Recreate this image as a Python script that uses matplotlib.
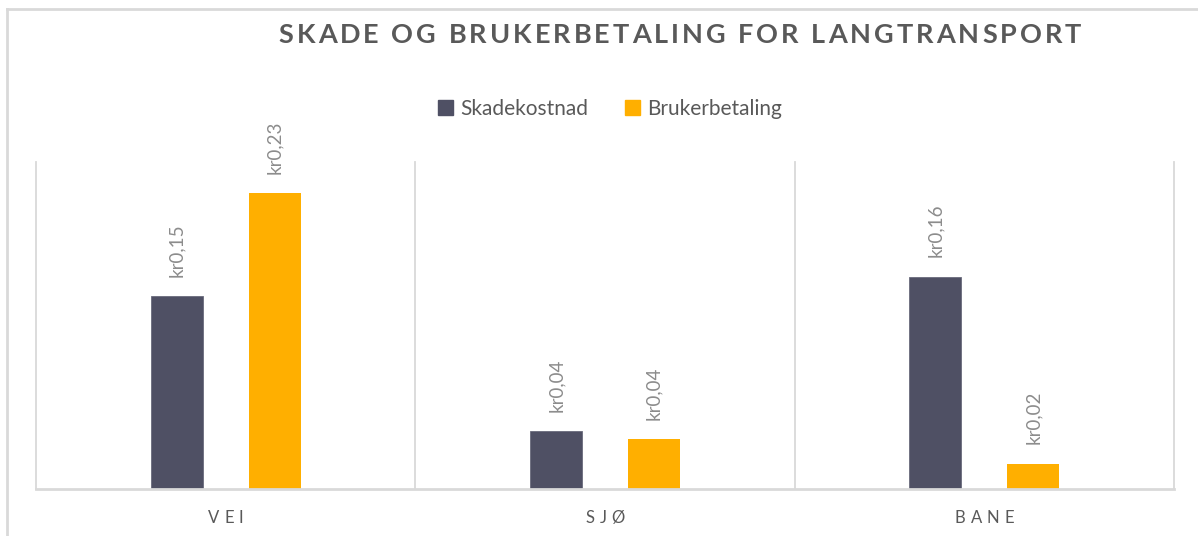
import numpy as np
import matplotlib
matplotlib.use("Agg")
import matplotlib.pyplot as plt
from matplotlib.lines import Line2D
from matplotlib.patches import Patch

# data (kr per tonn-km, roughly)
categories = ["VEI", "SJØ", "BANE"]
skadekostnad = [0.149, 0.0448, 0.1643]
brukerbetaling = [0.229, 0.0385, 0.0194]
series_names = ["Skadekostnad", "Brukerbetaling"]

title = "SKADE OG BRUKERBETALING FOR LANGTRANSPORT"

dark = "#4F5064"
orange = "#FFAF00"
grid_col = "#D9D9D9"
text_col = "#595959"
label_col = "#8C8C8C"
font = "Lato"

W, H = 1198, 536
fig = plt.figure(figsize=(W / 100, H / 100), dpi=100)
ax = fig.add_axes([36 / W, 1 - 489 / H, (1174 - 36) / W, (489 - 162) / H])

x = np.arange(len(categories))
bw = 0.137
off = 0.129
b1 = ax.bar(x - off, skadekostnad, bw, color=dark, edgecolor="#6A6B7C", linewidth=0.6)
b2 = ax.bar(x + off, brukerbetaling, bw, color=orange)

# value labels, rotated like the Excel chart
for bars, vals in [(b1, skadekostnad), (b2, brukerbetaling)]:
    for rect, v in zip(bars, vals):
        txt = "kr" + f"{v:.2f}".replace(".", ",")
        ax.annotate(txt, (rect.get_x() + rect.get_width() / 2, rect.get_height()),
                    xytext=(0, 14), textcoords="offset points", rotation=90,
                    ha="center", va="bottom", fontsize=13.5, color=label_col,
                    family=font)

ax.set_xlim(-0.5, len(categories) - 0.5)
ax.set_ylim(0, 0.253)
for s in ax.spines.values():
    s.set_visible(False)
ax.set_xticks([])
ax.set_yticks([])
# category separators and baseline
for b in np.arange(len(categories) + 1) - 0.5:
    ax.axvline(b, color=grid_col, lw=1.3, clip_on=False)
ax.axhline(0, color=grid_col, lw=2, clip_on=False)

# border of the chart area (only top and left visible in the crop)
fig.add_artist(Line2D([7 / W, 7 / W], [0, 1 - 8.5 / H], color=grid_col, lw=2))
fig.add_artist(Line2D([7 / W, 1], [1 - 8.5 / H, 1 - 8.5 / H], color=grid_col, lw=2))

renderer = fig.canvas.get_renderer()


def spaced_text(xc, yc, s, spacing, **kw):
    # draw text letter by letter with extra tracking, centred on xc (pixels)
    widths = []
    for ch in s:
        if ch == " ":
            t1 = fig.text(0, 0, "a a", **kw)
            t2 = fig.text(0, 0, "aa", **kw)
            w = t1.get_window_extent(renderer).width - t2.get_window_extent(renderer).width
            t1.remove()
            t2.remove()
        else:
            t = fig.text(0, 0, ch, **kw)
            w = t.get_window_extent(renderer).width
            t.remove()
        widths.append(w)
    total = sum(widths) + spacing * (len(s) - 1)
    pos = xc - total / 2
    for ch, w in zip(s, widths):
        fig.text(pos / W, 1 - yc / H, ch, ha="left", va="center", **kw)
        pos += w + spacing


spaced_text(680, 35, title, 3.0, fontsize=19.5, fontweight="bold", color=text_col, family=font)

for i, c in enumerate(categories):
    px = ax.transData.transform((i, 0))[0]
    spaced_text(px, 518, c, 5, fontsize=12, color=text_col, family=font)

handles = [Patch(color=dark), Patch(color=orange)]
fig.legend(handles, series_names, loc="center", bbox_to_anchor=(610 / W, 1 - 109 / H),
           ncol=2, frameon=False, handlelength=0.7, handleheight=0.7,
           handletextpad=0.35, columnspacing=1.8, prop={"family": font, "size": 15},
           labelcolor=text_col)

fig.savefig("out.png", dpi=100)
